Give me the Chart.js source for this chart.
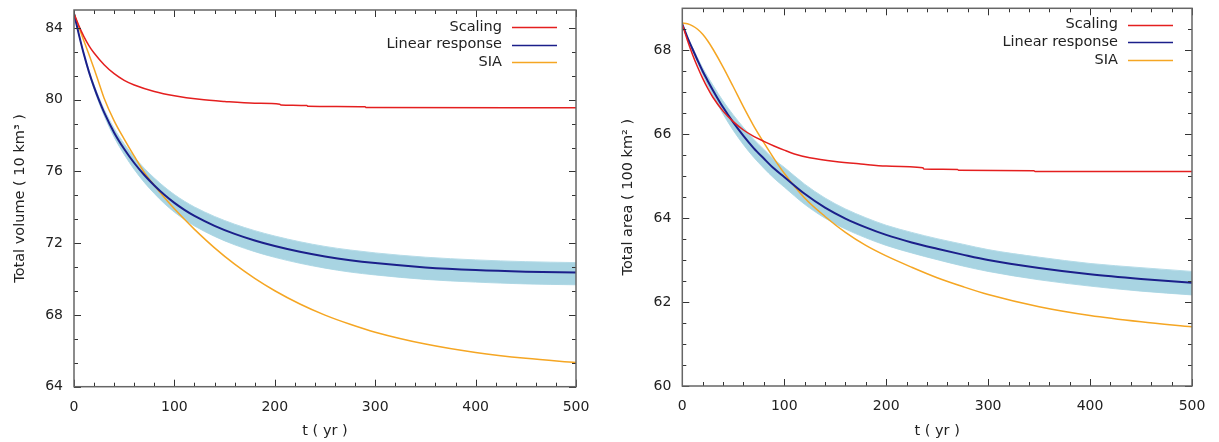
<!DOCTYPE html>
<html><head><meta charset="utf-8">
<script src="https://cdn.jsdelivr.net/npm/chart.js@4.4.0/dist/chart.umd.min.js"></script>
<style>
html,body{margin:0;padding:0;background:#fff;}
#wrap{position:relative;width:1219px;height:442px;overflow:hidden;}
.box{position:absolute;top:0;height:442px;}
canvas{display:block;}
</style></head><body>
<div id="wrap">
<div class="box" style="left:0;width:609px"><canvas id="c1" width="609" height="442" style="width:609px;height:442px"></canvas></div>
<div class="box" style="left:609px;width:610px"><canvas id="c2" width="610" height="442" style="width:610px;height:442px"></canvas></div>
</div>
<script>
// ---------- shared ----------
const seriesLabels = ['Scaling', 'Linear response', 'SIA'];
const timeTicks = [0, 100, 200, 300, 400, 500];

// ---------- left panel: total volume (10 km^3) ----------
const tVol = [0,5,10,15,20,25,30,40,50,60,70,80,90,100,110,120,140,160,180,200,225,250,275,300,350,400,450,500];
const volLinear = [84.8,83.6,82.5,81.53,80.7,79.96,79.29,78.16,77.25,76.47,75.8,75.22,74.7,74.25,73.86,73.52,72.97,72.52,72.15,71.84,71.52,71.26,71.05,70.89,70.65,70.5,70.41,70.36];
const volEnsUpper = [84.8,83.63,82.56,81.62,80.82,80.11,79.47,78.4,77.54,76.81,76.18,75.63,75.14,74.71,74.34,74.02,73.49,73.06,72.7,72.4,72.08,71.82,71.62,71.46,71.22,71.07,70.97,70.92];
const volEnsLower = [84.8,83.57,82.44,81.44,80.58,79.81,79.11,77.91,76.94,76.11,75.39,74.77,74.21,73.73,73.32,72.96,72.38,71.91,71.53,71.21,70.88,70.61,70.39,70.23,69.98,69.83,69.73,69.68];
const volSIA = [84.8,84.02,83.26,82.5,81.72,80.9,80.08,78.82,77.8,76.85,75.95,75.22,74.55,73.92,73.33,72.77,71.74,70.83,70.04,69.35,68.61,67.99,67.48,67.04,66.38,65.91,65.58,65.35];
const tVolScaling = [0,5,10,15,20,30,40,50,60,80,100,125,150,180,205,206,232,233,290,291,500];
const volScaling = [84.8,84.1,83.5,83.0,82.6,81.95,81.45,81.08,80.82,80.46,80.22,80.02,79.9,79.8,79.74,79.71,79.67,79.63,79.6,79.56,79.55];
const volTicks = [64, 68, 72, 76, 80, 84];

// ---------- right panel: total area (100 km^2) ----------
const tArea = [0,5,10,15,20,25,30,40,50,60,70,80,90,100,120,140,160,180,200,225,250,275,300,350,400,450,500];
const areaLinear = [68.62,68.31,68.03,67.76,67.5,67.27,67.05,66.64,66.28,65.96,65.67,65.42,65.18,64.98,64.58,64.25,63.99,63.78,63.6,63.42,63.27,63.13,63.0,62.81,62.66,62.55,62.46];
const areaEnsUpper = [68.62,68.33,68.07,67.82,67.58,67.37,67.17,66.79,66.46,66.16,65.88,65.64,65.4,65.21,64.81,64.48,64.22,64.01,63.83,63.66,63.51,63.38,63.25,63.07,62.92,62.82,62.73];
const areaEnsLower = [68.62,68.29,67.99,67.7,67.42,67.16,66.92,66.48,66.09,65.75,65.45,65.19,64.95,64.74,64.33,64.0,63.74,63.53,63.35,63.17,63.01,62.86,62.73,62.53,62.38,62.26,62.17];
const areaSIA = [68.65,68.63,68.58,68.5,68.38,68.22,68.03,67.6,67.13,66.65,66.2,65.8,65.42,65.07,64.48,64.04,63.66,63.35,63.1,62.83,62.58,62.37,62.18,61.89,61.68,61.53,61.41];
const tAreaScaling = [0,5,10,15,20,25,30,40,50,60,70,80,90,100,110,125,150,175,200,236,237,270,271,345,346,500];
const areaScaling = [68.62,68.24,67.9,67.6,67.33,67.09,66.88,66.55,66.3,66.1,65.95,65.83,65.72,65.62,65.53,65.44,65.35,65.29,65.24,65.2,65.17,65.16,65.14,65.13,65.11,65.11];
const areaTicks = [60, 62, 64, 66, 68];

// ---------- styling ----------
const FONT = "'DejaVu Sans', 'Liberation Sans', sans-serif";
Chart.defaults.font.family = FONT;
Chart.defaults.color = '#222';
const C_RED = '#e41f1f', C_BLUE = '#1b1f8a', C_ORANGE = '#f5a623', C_BAND = '#a8d4e2', C_BANDLINE = '#b6dce8';

const pts = (ts, vs) => ts.map((t, i) => ({x: t, y: vs[i]}));

const framePlugin = {
  id: 'frame',
  afterDatasetsDraw(chart, args, o) {
    const {ctx, chartArea: a, scales: {x, y}} = chart;
    ctx.save();
    ctx.strokeStyle = '#333';
    ctx.lineWidth = 1;
    const xTick = (v, len) => {
      const px = Math.round(x.getPixelForValue(v)) + 0.5;
      ctx.beginPath();
      ctx.moveTo(px, a.bottom); ctx.lineTo(px, a.bottom - len);
      ctx.moveTo(px, a.top); ctx.lineTo(px, a.top + len);
      ctx.stroke();
    };
    const yTick = (v, len) => {
      const py = Math.round(y.getPixelForValue(v)) + 0.5;
      ctx.beginPath();
      ctx.moveTo(a.left, py); ctx.lineTo(a.left + len, py);
      ctx.moveTo(a.right, py); ctx.lineTo(a.right - len, py);
      ctx.stroke();
    };
    for (let v = x.min; v <= x.max + 1e-9; v += o.xMinor) xTick(v, 4);
    x.ticks.forEach(t => xTick(t.value, 7));
    for (let v = o.yMinorStart; v <= y.max + 1e-9; v += o.yMinor) yTick(v, 4);
    y.ticks.forEach(t => yTick(t.value, 7));
    ctx.strokeStyle = '#666';
    ctx.lineWidth = 1.5;
    ctx.strokeRect(a.left, a.top, a.right - a.left, a.bottom - a.top);
    ctx.restore();
  }
};

const insideLegend = {
  id: 'insideLegend',
  afterDraw(chart, args, o) {
    const {ctx, chartArea: a} = chart;
    const items = chart.data.datasets.filter(d => d.inLegend);
    ctx.save();
    ctx.font = '14.5px ' + FONT;
    ctx.fillStyle = '#222';
    ctx.textAlign = 'right';
    ctx.textBaseline = 'middle';
    items.forEach((d, i) => {
      const yy = a.top + o.top + i * o.rowH;
      ctx.fillText(d.label, a.right - o.textRight, yy);
      ctx.strokeStyle = d.borderColor;
      ctx.lineWidth = 1.5;
      ctx.beginPath();
      ctx.moveTo(a.right - o.lineStart, Math.round(yy) + 0.5);
      ctx.lineTo(a.right - o.lineEnd, Math.round(yy) + 0.5);
      ctx.stroke();
    });
    ctx.restore();
  }
};

function makeDatasets(tMain, lin, up, lo, sia, tSc, sc) {
  const base = {pointRadius: 0, cubicInterpolationMode: 'monotone', fill: false};
  return [
    {...base, label: seriesLabels[0], data: pts(tSc, sc), borderColor: C_RED, borderWidth: 1.5, order: 1, inLegend: true},
    {...base, label: seriesLabels[1], data: pts(tMain, lin), borderColor: C_BLUE, borderWidth: 2, order: 2, inLegend: true},
    {...base, label: seriesLabels[2], data: pts(tMain, sia), borderColor: C_ORANGE, borderWidth: 1.5, order: 3, inLegend: true},
    {...base, label: 'ensemble max', data: pts(tMain, up), borderColor: C_BANDLINE, borderWidth: 1, backgroundColor: C_BAND, fill: '+1', order: 10},
    {...base, label: 'ensemble min', data: pts(tMain, lo), borderColor: C_BANDLINE, borderWidth: 1, order: 11}
  ];
}

function makeChart(id, cfg) {
  return new Chart(document.getElementById(id), {
    type: 'line',
    data: {datasets: makeDatasets(...cfg.data)},
    options: {
      responsive: false,
      animation: false,
      devicePixelRatio: 1,
      layout: {padding: {left: 0, top: cfg.padTop, right: cfg.padRight, bottom: 0}},
      plugins: {
        legend: {display: false},
        tooltip: {enabled: false},
        frame: {xMinor: 20, yMinor: cfg.yMinor, yMinorStart: cfg.yMin},
        insideLegend: {top: cfg.legTop, rowH: 17.7, textRight: 74, lineStart: 64, lineEnd: 19}
      },
      scales: {
        x: {
          type: 'linear', min: 0, max: 500,
          grid: {display: false, drawTicks: false},
          border: {display: false},
          ticks: {font: {size: 14}, color: '#222', padding: 12, maxRotation: 0},
          afterBuildTicks: s => { s.ticks = timeTicks.map(v => ({value: v})); },
          afterFit: s => { s.height = cfg.xHeight; s.paddingLeft = 0; s.paddingRight = 0; },
          title: {display: true, text: 't ( yr )', font: {size: 14.5}, color: '#222', padding: {top: 0, bottom: 2.3}}
        },
        y: {
          type: 'linear', min: cfg.yMin, max: cfg.yMax,
          grid: {display: false, drawTicks: false},
          border: {display: false},
          ticks: {font: {size: 14}, color: '#222', padding: 11},
          afterBuildTicks: s => { s.ticks = cfg.yTicks.map(v => ({value: v})); },
          afterFit: s => { s.width = cfg.yWidth; s.paddingTop = 0; s.paddingBottom = 0; },
          title: {display: true, text: cfg.yTitle, font: {size: 14.5}, color: '#222', padding: {top: cfg.yTitlePad, bottom: 0}}
        }
      }
    },
    plugins: [framePlugin, insideLegend]
  });
}

makeChart('c1', {
  data: [tVol, volLinear, volEnsUpper, volEnsLower, volSIA, tVolScaling, volScaling],
  padTop: 10, padRight: 33, xHeight: 55.3, yWidth: 74,
  yMin: 64, yMax: 85, yTicks: volTicks, yMinor: 4 / 3,
  yTitle: 'Total volume ( 10 km³ )', yTitlePad: 11.3, legTop: 17
});
makeChart('c2', {
  data: [tArea, areaLinear, areaEnsUpper, areaEnsLower, areaSIA, tAreaScaling, areaScaling],
  padTop: 8.3, padRight: 27, xHeight: 56, yWidth: 73.3,
  yMin: 60, yMax: 69, yTicks: areaTicks, yMinor: 0.5,
  yTitle: 'Total area ( 100 km² )', yTitlePad: 10.3, legTop: 16.2
});
</script>
</body></html>
